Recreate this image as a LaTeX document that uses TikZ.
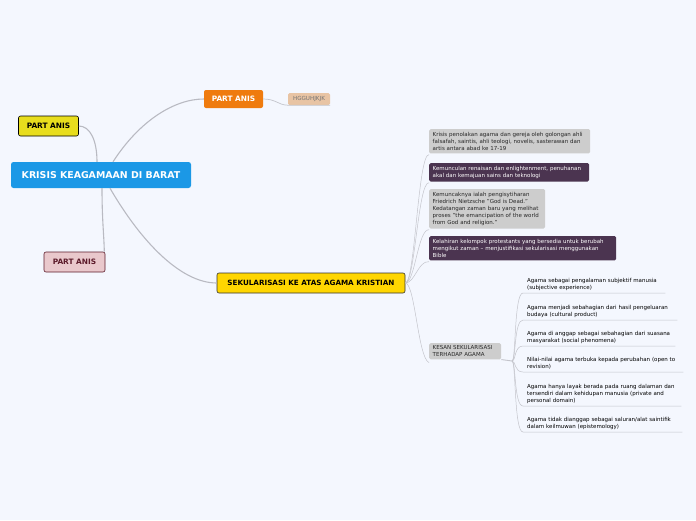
\documentclass[tikz,border=0pt]{standalone}
\usepackage{fontspec}
\setmainfont{DejaVu Sans}
\usetikzlibrary{positioning,calc}

\definecolor{bgcol}{HTML}{F4F7FE}
\definecolor{maincol}{HTML}{1B98E6}
\definecolor{yelcol}{HTML}{E8DD1D}
\definecolor{orcol}{HTML}{EF7B0E}
\definecolor{tancol}{HTML}{E8C4A4}
\definecolor{pinkcol}{HTML}{E9C8CC}
\definecolor{wine}{HTML}{5C1A2A}
\definecolor{goldcol}{HTML}{FFD600}
\definecolor{greycol}{HTML}{CDCDCD}
\definecolor{plumcol}{HTML}{4B3450}
\definecolor{linkcol}{HTML}{B9BAC2}

\begin{document}
\begin{tikzpicture}[
  x=1pt, y=-1pt,
  topic/.style={rounded corners=2pt, inner xsep=5pt, inner ysep=0pt, minimum height=18pt, font=\bfseries\fontsize{7.4}{8}\selectfont},
  note/.style={rounded corners=1.5pt, inner xsep=3.5pt, inner ysep=3pt, align=left, anchor=north west, font=\fontsize{5.5}{7}\selectfont},
  leaf/.style={inner xsep=4pt, inner ysep=2.5pt, align=left, anchor=south west, font=\fontsize{5.5}{7}\selectfont},
  link/.style={draw=linkcol, line width=1.1pt},
  twig/.style={draw=linkcol!85, line width=0.5pt}
]
\useasboundingbox[fill=bgcol] (0,0) rectangle (696,520);

% main topics
\node[rounded corners=2.5pt, fill=maincol, text=white, minimum width=180pt, minimum height=26pt,
  font=\bfseries\fontsize{9.4}{10}\selectfont] (root) at (101,175) {KRISIS KEAGAMAAN DI BARAT};
\node[topic, fill=yelcol, draw=black, line width=0.6pt, minimum width=60pt, minimum height=20pt] (partA) at (48.5,126) {PART ANIS};
\node[topic, fill=orcol, text=white, minimum width=59pt] (partB) at (233.5,99) {PART ANIS};
\node[rounded corners=1.5pt, fill=tancol, text=black!55, inner xsep=2pt, minimum width=42pt, minimum height=12pt,
  font=\fontsize{5.6}{6}\selectfont] (hgg) at (309,99) {HGGUHJKJK};
\node[topic, fill=pinkcol, draw=wine, text=wine, line width=0.6pt, minimum width=61pt, minimum height=20pt] (partC) at (74.5,262) {PART ANIS};
\node[topic, fill=goldcol, draw=black!80, line width=0.6pt, minimum width=188pt, minimum height=20pt,
  font=\bfseries\fontsize{7.2}{8}\selectfont] (sekul) at (311,283) {SEKULARISASI KE ATAS AGAMA KRISTIAN};

% sub topics of sekularisasi
\node[note, fill=greycol, text=black!85, text width=154pt] (krisis) at (429,129)
  {Krisis penolakan agama dan gereja oleh golongan ahli\\falsafah, saintis, ahli teologi, novelis, sasterawan dan\\artis antara abad ke 17-19};
\node[note, fill=plumcol, text=white, text width=153pt] (renaisan) at (429,163)
  {Kemunculan renaisan dan enlightenment, penuhanan\\akal dan kemajuan sains dan teknologi};
\node[note, fill=greycol, text=black!85, text width=109pt] (nietzsche) at (429,189)
  {Kemuncaknya ialah pengisytiharan\\Friedrich Nietzsche "God is Dead."\\Kedatangan zaman baru yang melihat\\proses "the emancipation of the world\\from God and religion."};
\node[note, fill=plumcol, text=white, text width=180pt] (protestan) at (429,236)
  {Kelahiran kelompok protestants yang bersedia untuk berubah\\mengikut zaman – menjustifikasi sekularisasi menggunakan\\Bible};
\node[note, fill=greycol, text=black!85, text width=65pt, inner ysep=2.5pt] (kesan) at (429,343)
  {KESAN SEKULARISASI\\TERHADAP AGAMA};

% leaves of kesan
\node[leaf, text width=134pt] (subjektif) at (523,293) {Agama sebagai pengalaman subjektif manusia\\(subjective experience)};
\node[leaf, text width=146pt] (budaya) at (523,320) {Agama menjadi sebahagian dari hasil pengeluaran\\budaya (cultural product)};
\node[leaf, text width=144pt] (sosial) at (523,346) {Agama di anggap sebagai sebahagian dari suasana\\masyarakat (social phenomena)};
\node[leaf, text width=152pt] (revisi) at (523,372) {Nilai-nilai agama terbuka kepada perubahan (open to\\revision)};
\node[leaf, text width=150pt] (peribadi) at (523,406) {Agama hanya layak berada pada ruang dalaman dan\\tersendiri dalam kehidupan manusia (private and\\personal domain)};
\node[leaf, text width=151pt] (ilmu) at (523,432) {Agama tidak dianggap sebagai saluran/alat saintifik\\dalam keilmuwan (epistemology)};

% links from root
\draw[link] ([xshift=-4pt]root.north) .. controls (97,140) and (90,126) .. (partA.east);
\draw[link] ([xshift=12pt]root.north) .. controls (140,120) and (175,99) .. (partB.west);
\draw[link] ([xshift=1pt]root.south) .. controls (102,220) and (104,235) .. ([xshift=-1pt]partC.north east);
\draw[link] ([xshift=9pt]root.south) .. controls (140,240) and (180,283) .. (sekul.west);

\draw[twig, line width=0.7pt] (partB.east) .. controls (276,99) and (278,105) .. (hgg.south west) -- (hgg.south east);

% links from sekularisasi
\foreach \n in {krisis,renaisan,nietzsche,protestan}
  \draw[twig] (sekul.east) .. controls (415,283) and (418,0|-\n.south west) .. ([yshift=-1pt]\n.south west);
\draw[twig] (sekul.east) .. controls (415,283) and (418,358) .. ([yshift=-3pt]kesan.south west);

% links from kesan
\coordinate (hub) at (512,361);
\draw[twig, line width=0.9pt] (kesan.south east) -- (hub);
\foreach \n in {subjektif,budaya,sosial,revisi,peribadi,ilmu}
  \draw[twig] (hub) .. controls (516,361) and (514,0|-\n.south west) .. (\n.south west) -- (\n.south east);
\end{tikzpicture}
\end{document}
